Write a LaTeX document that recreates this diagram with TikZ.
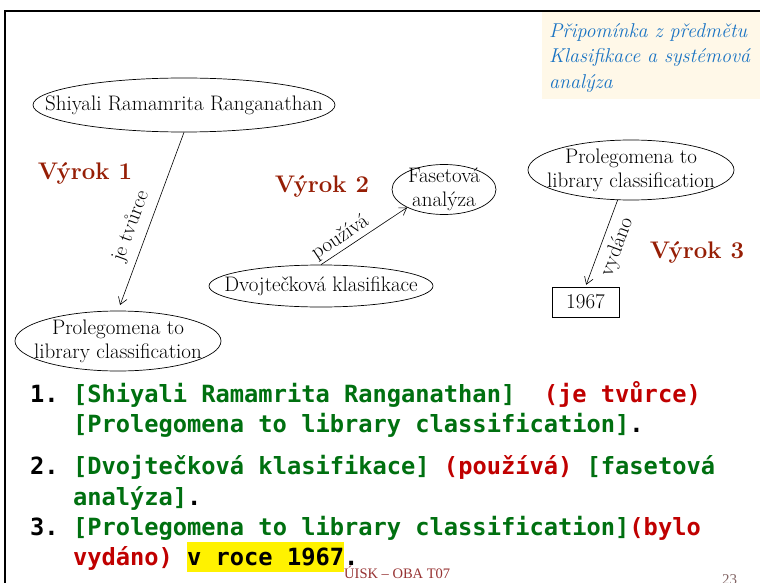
\documentclass[tikz,border=0pt]{standalone}
\usepackage{fontspec}
\usetikzlibrary{shapes.geometric,arrows.meta,positioning}
\newfontfamily\monofont{DejaVu Sans Mono}
\newfontfamily\slidefoot{Liberation Serif}
\definecolor{vyrokred}{RGB}{150,30,5}
\definecolor{noteblue}{RGB}{25,115,195}
\definecolor{notebg}{RGB}{255,248,232}
\definecolor{listgreen}{RGB}{0,112,16}
\definecolor{listred}{RGB}{192,0,0}
\definecolor{footred}{RGB}{150,50,50}
\definecolor{footgray}{RGB}{130,100,100}
\setlength{\fboxsep}{0pt}

\begin{document}
\begin{tikzpicture}[x=1pt, y=-1pt,
  >={Straight Barb[length=7pt,width=9pt]},
  bubble/.style={draw, ellipse, line width=0.7pt, inner xsep=-50pt, inner ysep=-20pt,
    align=center, font=\fontsize{21}{24}\selectfont},
  vyrok/.style={anchor=base, text=vyrokred, font=\fontsize{24}{28}\selectfont\bfseries},
  rel/.style={sloped, font=\fontsize{21}{24}\selectfont},
  item/.style={anchor=base west, inner sep=0pt,
    font=\monofont\bfseries\fontsize{23.7}{28}\selectfont\frenchspacing}]

  \useasboundingbox (0,0) rectangle (760,583);

  % note in the corner
  \fill[notebg] (542,12.5) rectangle (760,99);
  \node[anchor=north west, inner sep=0pt, align=left, text=noteblue,
    font=\itshape\fontsize{20}{25.5}\selectfont] (note) at (549,23)
    {Připomínka z předmětu\\Klasifikace a systémová\\analýza};

  % slide frame
  \draw[line width=2pt] (4.5,583) -- (4.5,11) -- (760,11);

  \node[bubble, minimum width=302pt, minimum height=54pt] (ranga) at (184,105) {Shiyali Ramamrita Ranganathan};
  \node[bubble, minimum width=206pt, minimum height=60pt] (pro1) at (118,341) {Prolegomena to\\library classification};
  \node[bubble, minimum width=224pt, minimum height=42pt] (dvoj) at (321,286) {Dvojtečková klasifikace};
  \node[bubble, minimum width=104pt, minimum height=50pt] (faset) at (444,189.5) {Fasetová\\analýza};
  \node[bubble, minimum width=206pt, minimum height=60pt] (pro3) at (631,170) {Prolegomena to\\library classification};
  \node[draw, line width=0.7pt, minimum width=67pt, minimum height=30pt,
    font=\fontsize{21}{24}\selectfont] (year) at (585.5,302) {1967};

  \node[vyrok] (v1) at (85,179) {Výrok 1};
  \node[vyrok] (v2) at (322,192) {Výrok 2};
  \node[vyrok] (v3) at (697,258) {Výrok 3};

  \draw[->, line width=0.6pt, shorten >=6pt] (ranga.south) -- node[rel, above=4pt, pos=.56] {je tvůrce} (pro1.north); %% 1
  \draw[->, line width=0.6pt] (dvoj.north) -- node[rel, above=-1pt, pos=.3] {používá} (faset.206); %% 2
  \draw[->, line width=0.6pt, shorten >=2pt] (pro3.246) -- node[rel, below=3pt, pos=.48] {vydáno} (year.north); %% 3

  % the three statements
  \node[item] (i1a) at (30,402) {1. \textcolor{listgreen}{[Shiyali Ramamrita Ranganathan]}\ \ \textcolor{listred}{(je tvůrce)}};
  \node[item] (i1b) at (72.8,432) {\textcolor{listgreen}{[Prolegomena to library classification]}.};
  \node[item] (i2a) at (30,474) {2. \textcolor{listgreen}{[Dvojtečková klasifikace]} \textcolor{listred}{(používá)} \textcolor{listgreen}{[fasetová}};
  \node[item] (i2b) at (72.8,505) {\textcolor{listgreen}{analýza]}.};
  \node[item] (i3a) at (30,535) {3. \textcolor{listgreen}{[Prolegomena to library classification]}\textcolor{listred}{(bylo}};
  \node[item] (i3b) at (72.8,565) {\textcolor{listred}{vydáno)} \colorbox{yellow}{\rule[-7pt]{0pt}{30pt}v roce 1967}.};

  \node[anchor=base west, inner sep=0pt, text=footred,
    font=\slidefoot\fontsize{14.5}{17}\selectfont] (foot) at (344,578) {ÚISK – OBA T07};
  \node[anchor=base west, inner sep=0pt, text=footgray,
    font=\slidefoot\fontsize{15}{18}\selectfont] (page) at (722,584) {23};
\end{tikzpicture}
\end{document}
